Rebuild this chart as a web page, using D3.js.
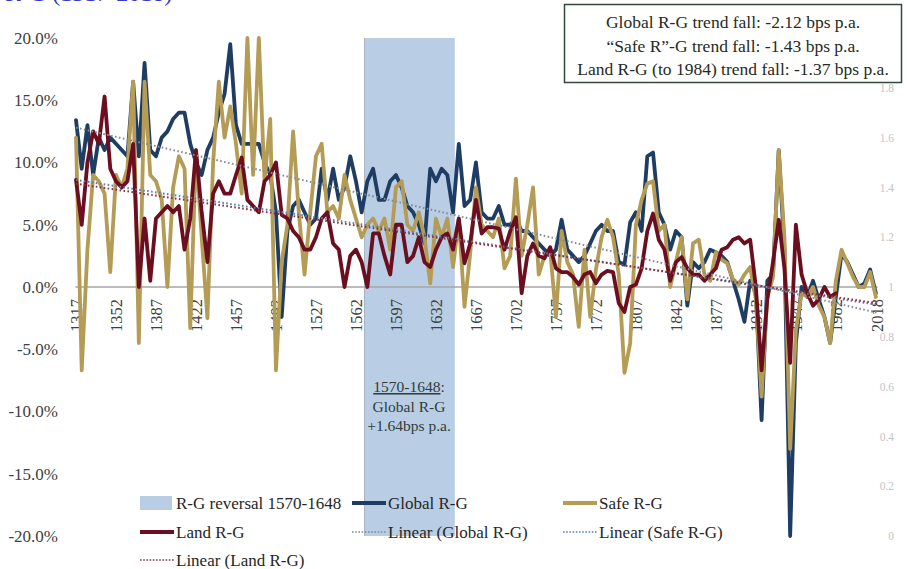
<!DOCTYPE html>
<html>
<head>
<meta charset="utf-8">
<script src="https://cdn.jsdelivr.net/npm/d3@7"></script>
<style>
  body { margin: 0; background: #fff; }
  svg { display: block; font-family: "Liberation Serif", "DejaVu Serif", serif; }
</style>
</head>
<body>
<svg id="chart" width="907" height="569"></svg>
<script>
// Series sampled every 5 years from 1317, in percent
const firstYear = 1317;
const stepYears = 5;
const globalRG = [
  13.4, 9.5, 13.0, 9.0, 12.0, 11.0, 12.0, 11.5, 11.0, 10.5,
  16.5, 10.5, 18.0, 11.0, 10.5, 12.0, 12.5, 13.5, 14.0, 14.0,
  11.5, 10.0, 9.0, 11.0, 12.0, 14.0, 15.5, 19.5, 13.0, 11.5,
  11.5, 11.5, 11.5, 10.0, 9.0, 6.0, -2.4, 4.5, 6.5, 7.0,
  6.0, 5.0, 5.5, 9.5, 7.0, 9.5, 7.0, 8.0, 10.5, 8.5,
  6.0, 8.5, 9.5, 7.0, 7.0, 8.5, 9.0, 8.0, 6.5, 6.0,
  5.0, 3.5, 9.5, 8.5, 9.5, 9.0, 6.0, 11.5, 6.5, 7.0,
  10.0, 6.0, 5.5, 5.5, 6.5, 5.0, 5.0, 5.5, 4.5, 4.5,
  4.0, 3.5, 3.0, 2.5, 3.0, 5.4, 3.0, 2.5, 2.0, 2.5,
  3.5, 4.5, 5.0, 4.5, 4.5, 2.0, 1.8, 5.2, 6.0, 4.5,
  10.5, 10.8, 6.0, 5.0, 3.0, 4.5, 4.0, -1.5, 2.0, 1.5,
  2.0, 3.0, 2.8, 2.5, 2.0, 0.5, -1.0, -2.8, 0.5, -0.5,
  -10.7, 0.5, 1.0, 11.0, 3.0, -20.0, -4.5, 0.0, -0.8, 0.5,
  -1.0, -2.4, -4.5, -0.8, 2.7, 2.0, 1.0, 0.0, 0.3, 1.4,
  -0.5
];
const safeRG = [
  12.0, -6.7, 3.0, 9.0, 8.5, 7.5, 1.2, 9.0, 8.0, 9.5,
  16.5, -4.5, 16.5, 9.0, 8.5, 7.0, 0.0, 8.0, 10.5, 9.5,
  -3.3, 11.0, 4.0, -2.5, 10.0, 16.5, 12.0, 14.5, 11.5, 7.5,
  20.0, 9.0, 20.0, 8.5, 13.5, -6.7, 2.0, 5.0, 12.5, 6.0,
  1.0, 6.0, 10.5, 11.5, 6.0, 6.5, 5.5, 9.0, 7.0, 5.5,
  4.0, 5.0, 5.5, 4.5, 5.5, 3.0, 8.0, 8.5, 5.0, 4.5,
  6.0, 4.0, 0.3, 5.5, 4.0, 5.5, 1.6, 5.5, -1.6, 2.7,
  8.0, 5.0, 4.5, 4.0, 5.5, 1.5, 2.5, 8.7, 2.5, 5.0,
  8.0, 1.0, 2.5, 3.0, -2.4, 4.5, 2.0, 1.0, -3.2, 3.0,
  -2.4, 1.4, 4.0, 5.4, 4.0, 1.0, -6.9, -4.5, 5.0, 7.0,
  8.3, 8.5, 4.5, 5.0, 0.0, 2.0, 4.0, -1.0, 3.5, 3.8,
  1.0, 0.5, 2.8, 2.2, 1.9, 0.6, 0.2, 1.0, 1.6, -1.0,
  -8.8, -0.8, 0.8, 11.0, 4.0, -13.0, -3.5, -0.5, -0.8, 0.0,
  -1.5, -2.4, -4.5, 0.5, 3.0, 1.9, 0.8, 0.0, 0.0, 1.2,
  -0.8
];
// Land series runs 1317-1982
const landRG = [
  8.6, 5.0, 10.0, 12.5, 11.5, 15.3, 9.5, 8.5, 8.0, 8.5,
  11.5, 0.0, 5.5, 0.5, 5.5, 6.0, 6.5, 6.0, 6.5, 3.0,
  5.5, 11.0, 6.0, 2.0, 7.5, 8.5, 7.5, 7.5, 9.0, 10.4,
  7.0, 6.5, 6.0, 8.5, 9.0, 10.0, 5.8, 5.5, 4.5, 4.0,
  3.0, 3.0, 4.0, 5.5, 6.0, 3.5, 3.0, 0.0, 2.5, 3.0,
  2.0, 0.0, 4.3, 4.3, 2.5, 1.0, 5.0, 5.0, 2.0, 2.5,
  4.0, 2.0, 1.6, 3.0, 4.0, 4.3, 3.0, 5.5, 1.9, 3.5,
  7.0, 4.3, 4.8, 4.8, 4.7, 3.0, 4.5, 5.6, -0.5, 2.5,
  3.5, 2.5, 2.3, 3.2, 1.5, 1.2, 1.2, 0.8, 0.2, 1.0,
  1.2, 0.3, 1.0, 1.3, 1.2, -1.3, -2.0, 0.0, 0.2, 1.5,
  4.5, 5.9, 3.8, 3.0, 0.5, 2.0, 2.4, 1.5, 1.0, 1.0,
  0.5, 1.0, 1.5, 3.0, 3.2, 3.8, 4.0, 3.5, 3.8, 0.0,
  -6.7, -1.0, 2.0, 5.4, 1.5, -6.1, 5.0, 1.0, -0.5, -1.5,
  -1.0, 0.0, -0.8, -0.5
];
const years = d3.range(globalRG.length).map(i => firstYear + i * stepYears);

// Linear trends: start level (%) and slope in bps per year
const trendNames = ["Global R-G", "Safe R-G", "Land R-G"];
const trendStart = [12.8, 8.6, 8.3];
const trendSlopeBps = [-2.12, -1.43, -1.37];
const trendYears = [1317, 2018];

// Reversal period shown as a band on the secondary axis
const reversalYears = [1570, 1648];
const reversalValue = 2;

const xTickYears = [1317, 1352, 1387, 1422, 1457, 1492, 1527, 1562, 1597, 1632,
  1667, 1702, 1737, 1772, 1807, 1842, 1877, 1912, 1947, 1982, 2018];
const yTicks = [20, 15, 10, 5, 0, -5, -10, -15, -20];
const y2Ticks = [0, 0.2, 0.4, 0.6, 0.8, 1, 1.2, 1.4, 1.6, 1.8, 2];

const colors = {
  global: "#1f3d63", safe: "#b49c56", land: "#6b0f20",
  tGlobal: "#858c96", tSafe: "#5a7db0", tLand: "#8c3042",
  band: "#b9cde5", text: "#404040"
};

const svg = d3.select("#chart");
const plotTop = 38, plotBottom = 536;
const x = d3.scaleLinear().domain([1317, 2018]).range([76, 877]);
const y = d3.scaleLinear().domain([-20, 20]).range([plotBottom, plotTop]);
const y2 = d3.scaleLinear().domain([0, 2]).range([plotBottom, plotTop]);
const slot = x(1318) - x(1317);

svg.append("defs").append("clipPath").attr("id", "plot")
  .append("rect").attr("x", 70).attr("y", plotTop - 2).attr("width", 815).attr("height", plotBottom - plotTop + 4);

// Title (runs above the page edge)
svg.append("text").attr("x", 5).attr("y", 1)
  .attr("font-size", 24).attr("fill", "#3838c8")
  .text("R-G (1317-2018)");

// Reversal band
svg.append("rect")
  .attr("x", x(reversalYears[0]) - slot / 2)
  .attr("width", x(reversalYears[1]) - x(reversalYears[0]) + slot)
  .attr("y", y2(reversalValue))
  .attr("height", y2(0) - y2(reversalValue))
  .attr("fill", colors.band);
svg.append("line")
  .attr("x1", x(reversalYears[0]) - slot / 2).attr("x2", x(reversalYears[0]) - slot / 2)
  .attr("y1", y2(reversalValue)).attr("y2", y2(0))
  .attr("stroke", "#a9b4c0").attr("stroke-width", 1);

// Left axis
const yAxis = svg.append("g").attr("transform", "translate(60,0)")
  .call(d3.axisLeft(y).tickValues(yTicks).tickSize(0).tickPadding(2)
    .tickFormat(d => d.toFixed(1) + "%"));
yAxis.select(".domain").remove();
yAxis.selectAll("text").attr("font-size", 17).attr("fill", colors.text)
  .attr("font-family", "Liberation Serif, serif");

// Right axis
const y2Axis = svg.append("g").attr("transform", "translate(894,0)")
  .call(d3.axisRight(y2).tickValues(y2Ticks).tickSize(0).tickPadding(0)
    .tickFormat(d => String(+d.toFixed(1))));
y2Axis.select(".domain").remove();
y2Axis.selectAll("text").attr("font-size", 11.5).attr("fill", "#c4c4c4")
  .attr("text-anchor", "end").attr("x", 0)
  .attr("font-family", "Liberation Serif, serif");

// Category axis on the zero line
const xAxis = svg.append("g").attr("transform", `translate(0,${y(0)})`)
  .call(d3.axisBottom(x).tickValues(xTickYears).tickSize(0).tickFormat(d3.format("d")));
xAxis.select(".domain")
  .attr("d", `M${x(1317) - slot / 2},0H${x(2018) + slot / 2}`)
  .attr("stroke", "#a6a6a6").attr("stroke-width", 1.5);
xAxis.selectAll("text")
  .attr("font-size", 16.5).attr("fill", colors.text)
  .attr("font-family", "Liberation Serif, serif")
  .attr("text-anchor", "end")
  .attr("transform", "translate(0,12) rotate(-90)")
  .attr("x", 0).attr("y", 0).attr("dy", "0.35em");

// Series lines
const plot = svg.append("g").attr("clip-path", "url(#plot)");
const line = d3.line().x((d, i) => x(years[i])).y(d => y(d));
[[globalRG, colors.global], [safeRG, colors.safe], [landRG, colors.land]].forEach(([vals, c]) => {
  plot.append("path").datum(vals).attr("d", line)
    .attr("fill", "none").attr("stroke", c).attr("stroke-width", 3.8)
    .attr("stroke-linejoin", "round").attr("stroke-linecap", "round");
});

// Trend lines
const trendColors = [colors.tGlobal, colors.tSafe, colors.tLand];
trendNames.forEach((name, k) => {
  const pts = trendYears.map(yr => [yr, trendStart[k] + trendSlopeBps[k] / 100 * (yr - trendYears[0])]);
  plot.append("path").datum(pts)
    .attr("d", d3.line().x(d => x(d[0])).y(d => y(d[1])))
    .attr("fill", "none").attr("stroke", trendColors[k]).attr("stroke-width", 2)
    .attr("stroke-dasharray", "1.6,2.4");
});

// Band annotation
const ann = svg.append("text").attr("text-anchor", "middle").attr("font-size", 15.5)
  .attr("fill", "#2f3e37");
const annFirst = ann.append("tspan").attr("x", 409).attr("y", 392);
annFirst.append("tspan").style("text-decoration", "underline").text("1570-1648");
annFirst.append("tspan").text(":");
ann.append("tspan").attr("x", 409).attr("y", 412).text("Global R-G");
ann.append("tspan").attr("x", 409).attr("y", 431).text("+1.64bps p.a.");

// Trend summary box
const box = svg.append("g");
box.append("rect").attr("x", 564.5).attr("y", 4.5).attr("width", 337).attr("height", 78)
  .attr("fill", "#fff").attr("stroke", "#2f4a3a").attr("stroke-width", 1.5);
const boxLines = [
  "Global R-G trend fall: -2.12 bps p.a.",
  "\u201CSafe R\u201D-G trend fall: -1.43 bps p.a.",
  "Land R-G (to 1984) trend fall: -1.37 bps p.a."
];
box.selectAll("text.bl").data(boxLines).join("text").attr("class", "bl")
  .attr("x", 733).attr("y", (d, i) => 28 + i * 23.5)
  .attr("text-anchor", "middle").attr("font-size", 17.5).attr("fill", "#1f2b24")
  .text(d => d);

// Legend
const legend = svg.append("g").attr("font-size", 17).attr("fill", "#262626");
const legendItems = [
  { label: "R-G reversal 1570-1648", kind: "rect", color: colors.band, x: 140, y: 503 },
  { label: "Global R-G", kind: "line", color: colors.global, x: 352, y: 503 },
  { label: "Safe R-G", kind: "line", color: colors.safe, x: 563, y: 503 },
  { label: "Land R-G", kind: "line", color: colors.land, x: 140, y: 532 },
  { label: "Linear (Global R-G)", kind: "dot", color: colors.tGlobal, x: 352, y: 532 },
  { label: "Linear (Safe R-G)", kind: "dot", color: colors.tSafe, x: 563, y: 532 },
  { label: "Linear (Land R-G)", kind: "dot", color: colors.tLand, x: 140, y: 560 }
];
legendItems.forEach(it => {
  if (it.kind === "rect") {
    legend.append("rect").attr("x", it.x).attr("y", it.y - 7).attr("width", 32).attr("height", 14)
      .attr("fill", it.color);
  } else {
    legend.append("line").attr("x1", it.x).attr("x2", it.x + 34).attr("y1", it.y).attr("y2", it.y)
      .attr("stroke", it.color)
      .attr("stroke-width", it.kind === "line" ? 3.8 : 1.6)
      .attr("stroke-dasharray", it.kind === "dot" ? "1.6,1.6" : null);
  }
  legend.append("text").attr("x", it.x + 36).attr("y", it.y).attr("dy", "0.35em").text(it.label);
});
</script>
</body>
</html>
